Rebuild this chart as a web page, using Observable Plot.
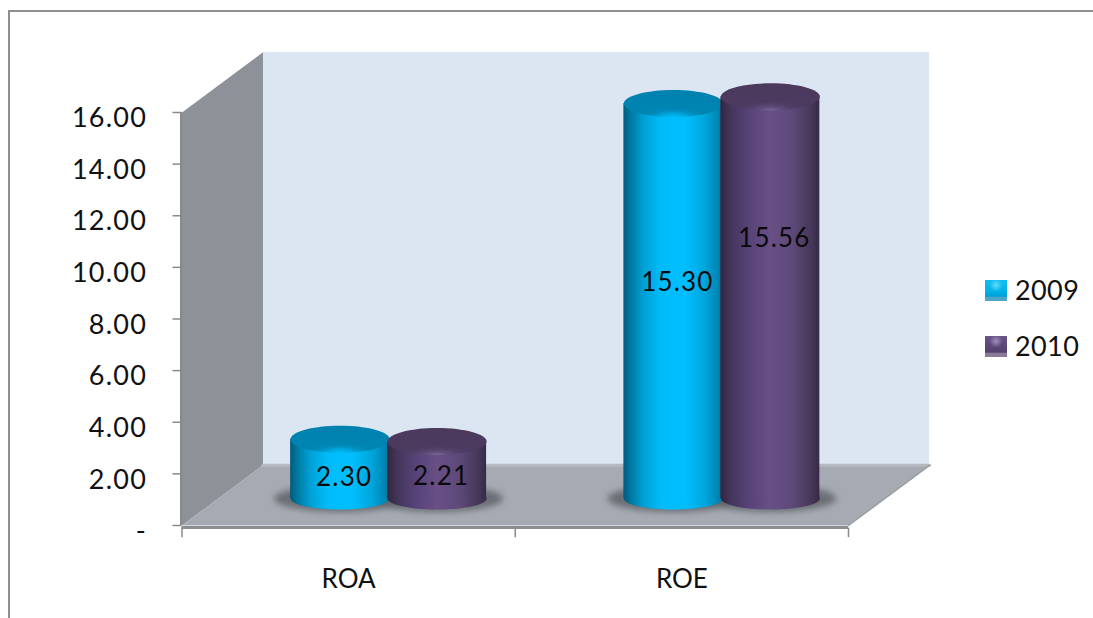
<!DOCTYPE html>
<html>
<head>
<meta charset="utf-8">
<script src="https://cdn.jsdelivr.net/npm/d3@7"></script>
<script src="https://cdn.jsdelivr.net/npm/@observablehq/plot@0.6"></script>
<style>
  html, body { margin: 0; padding: 0; background: #fff; overflow: hidden; }
  #chart { position: relative; width: 1093px; height: 618px; font-family: Lato, sans-serif; color: #111; }
  #chart svg { position: absolute; left: 0; top: 0; }
  #chart .num text { letter-spacing: 1.2px; }
  #frame { position: absolute; left: 8px; top: 10px; right: 0; bottom: 0;
           border-top: 2px solid #8f8f8f; border-left: 2px solid #8f8f8f; }
  .key { position: absolute; left: 985px; display: flex; align-items: center; font-size: 27px; line-height: 22px; letter-spacing: 0.4px; }
  .swatch { width: 22px; height: 21px; margin-right: 8px; box-sizing: border-box; }
  .s2009 { background: radial-gradient(ellipse 30% 30% at 50% 25%, #5fdcf5 0, rgba(95,220,245,0) 100%),
                       linear-gradient(#12bdf0 0, #00b0e8 55%, #00a0d6 78%, #4aa8c8 80%, #4aa8c8 100%); }
  .s2010 { background: radial-gradient(ellipse 30% 30% at 50% 25%, #a48cc0 0, rgba(164,140,192,0) 100%),
                       linear-gradient(#6a5588 0, #5a4676 55%, #54406c 78%, #8a7a98 80%, #8a7a98 100%); }
</style>
</head>
<body>
<div id="chart"><div id="frame"></div></div>
<script>
const categories = ["ROA", "ROE"];
const years = ["2009", "2010"];
const values2009 = [2.30, 15.30];
const values2010 = [2.21, 15.56];
const yTicks = [0, 2, 4, 6, 8, 10, 12, 14, 16];
const xTicks = [0, 1, 2];

// Height, in axis units, at which each printed value sits on its cylinder.
const labelHeights2009 = [1.86, 9.42];
const labelHeights2010 = [1.90, 11.12];

// Depth of the box and cylinder layout, in axis units.
const depthX = 0.243, depthY = 2.33;
const groupShift = 0.12, spacing = 0.291, halfWidth = 0.1485;
const lift = -27, capRy = 13.5, baseRy = 11, shadowRx = 66, shadowRy = 13.5;
const capRx = 49.5;

const bars = years.flatMap((year, s) => categories.map((category, c) => {
  const center = c + 0.5 + groupShift + (s - 0.5) * spacing;
  return {
    year, category, center,
    value: (s ? values2010 : values2009)[c],
    labelAt: (s ? labelHeights2010 : labelHeights2009)[c]
  };
}));

// Dot symbol that draws an ellipse, used for cylinder ends and floor shadows.
const ellipse = (rx, ry) => ({
  draw(p) {
    const k = 0.5523;
    p.moveTo(-rx, 0);
    p.bezierCurveTo(-rx, -k * ry, -k * rx, -ry, 0, -ry);
    p.bezierCurveTo(k * rx, -ry, rx, -k * ry, rx, 0);
    p.bezierCurveTo(rx, k * ry, k * rx, ry, 0, ry);
    p.bezierCurveTo(-k * rx, ry, -rx, k * ry, -rx, 0);
    p.closePath();
  }
});

const poly = (pts, fill) =>
  Plot.line(pts, {x: "0", y: "1", fill, stroke: "none"});

const cylinder = (bar) => {
  const g = bar.year === "2009" ? "a" : "b";
  return [
    Plot.dot([bar], {x: "center", y: () => 0, dy: lift, symbol: ellipse(capRx, baseRy), fill: `url(#body-${g})`, stroke: "none"}),
    Plot.rect([bar], {x1: d => d.center - halfWidth, x2: d => d.center + halfWidth, y1: () => 0, y2: "value", dy: lift, fill: `url(#body-${g})`}),
    Plot.dot([bar], {x: "center", y: "value", dy: lift, symbol: ellipse(capRx, capRy), fill: `url(#cap-${g})`, stroke: "none"})
  ];
};

const order = [0, 2, 1, 3].map(i => bars[i]);

const svg = Plot.plot({
  width: 1093,
  height: 618,
  marginLeft: 181,
  marginBottom: 90,
  marginTop: 0,
  marginRight: 0,
  style: {background: "transparent", fontFamily: "Lato, sans-serif"},
  x: {domain: [0, 2], range: [181.5, 848], axis: null},
  y: {domain: [0, 16], range: [525, 112], axis: null},
  marks: [
    // Back wall, side wall and floor of the box
    Plot.rect([0], {x1: () => depthX, x2: () => 2 + depthX, y1: () => depthY, y2: () => 16 + depthY, fill: "#dce6f2"}),
    poly([[0, 0], [depthX, depthY], [depthX, 16 + depthY], [0, 16]], "#8d9198"),
    poly([[0, 0], [2, 0], [2 + depthX, depthY], [depthX, depthY]], "#a6abb3"),
    Plot.line([[depthX, depthY], [2 + depthX, depthY]], {x: "0", y: "1", stroke: "#b6bac0", strokeWidth: 3}),
    Plot.line([[2, 0], [2 + depthX, depthY]], {x: "0", y: "1", stroke: "#9a9ea3", strokeWidth: 1.5}),
    Plot.ruleY([0], {x1: () => 0, x2: () => 2, dy: 2, stroke: "#8e8e8e", strokeWidth: 3}),
    Plot.ruleX([0], {y1: () => 0, y2: () => 16, dx: -1, stroke: "#8a8a8a", strokeWidth: 2}),

    // Axes
    Plot.ruleY(yTicks, {y: d => d, x1: () => -0.027, x2: () => 0, stroke: "#8a8a8a", strokeWidth: 1.5}),
    Plot.ruleX(xTicks, {x: d => d, y1: () => -0.1, y2: () => -0.47, stroke: "#8a8a8a", strokeWidth: 1.5}),
    Plot.text(yTicks, {x: () => 0, y: d => d, dx: -35, dy: 6, textAnchor: "end", fontSize: 27, fill: "#111", className: "num",
      text: d => d === 0 ? "-" : d3.format(".2f")(d)}),
    Plot.text(categories, {x: (d, i) => i + 0.5, y: () => 0, dy: 54, fontSize: 26, fill: "#111", text: d => d}),

    // Soft shadows on the floor, then the cylinders back to front
    Plot.dot(bars, {x: "center", y: () => 0, dy: lift, symbol: ellipse(shadowRx, shadowRy), fill: "#5c5f65", stroke: "none", fillOpacity: 0.8, imageFilter: "blur(3px)"}),
    ...order.flatMap(cylinder),

    // Printed values
    Plot.text(bars, {x: "center", y: "labelAt", dx: 4, fontSize: 26, fill: "#0a0a0a", className: "num", text: d => d3.format(".2f")(d.value)})
  ]
});

// Shading for the cylinder sides and end caps
const defs = d3.select(svg).append("defs");
const addLinear = (id, stops) => {
  const g = defs.append("linearGradient").attr("id", id).attr("x1", 0).attr("x2", 1).attr("y1", 0).attr("y2", 0);
  stops.forEach(([o, c]) => g.append("stop").attr("offset", o).attr("stop-color", c));
};
const addCap = (id, stops) => {
  const g = defs.append("radialGradient").attr("id", id).attr("cx", 0.5).attr("cy", 1).attr("r", 0.75).attr("fx", 0.5).attr("fy", 1);
  stops.forEach(([o, c]) => g.append("stop").attr("offset", o).attr("stop-color", c));
};
addLinear("body-a", [[0, "#005a7c"], [0.07, "#00789f"], [0.2, "#00a0d4"], [0.38, "#00bcfa"], [0.62, "#00bfff"], [0.82, "#00a6dc"], [0.95, "#0086b4"], [1, "#00739c"]]);
addLinear("body-b", [[0, "#32263f"], [0.1, "#44355a"], [0.3, "#58447a"], [0.5, "#684f85"], [0.72, "#5e4a7a"], [0.92, "#463758"], [1, "#362a46"]]);
addCap("cap-a", [[0, "#00bcf8"], [0.16, "#00a8e0"], [0.3, "#008ebf"], [0.45, "#0084b2"], [1, "#0082b0"]]);
addCap("cap-b", [[0, "#7e699c"], [0.16, "#5f4c78"], [0.3, "#52406a"], [0.45, "#4d3a60"], [1, "#4c395e"]]);

const root = document.getElementById("chart");
root.appendChild(svg);

// Legend to the right of the box
years.forEach((year, i) => {
  const row = document.createElement("div");
  row.className = "key";
  row.style.top = (279 + i * 56) + "px";
  row.innerHTML = `<span class="swatch s${year}"></span><span>${year}</span>`;
  root.appendChild(row);
});
</script>
</body>
</html>
